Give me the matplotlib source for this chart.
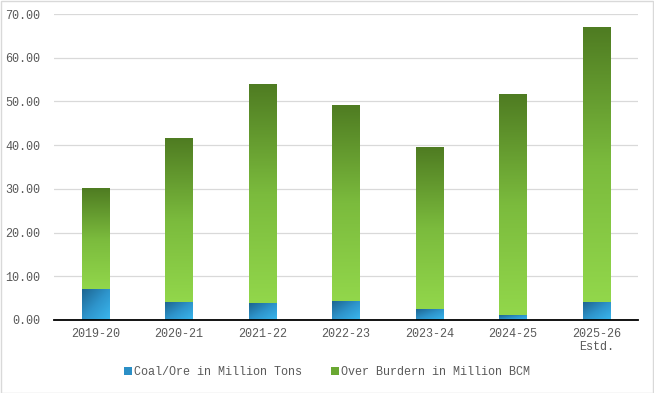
import numpy as np
import matplotlib
matplotlib.use("Agg")
import matplotlib.pyplot as plt
from matplotlib.colors import LinearSegmentedColormap
from matplotlib.patches import Rectangle

# ---- data ----
years = ["2019-20", "2020-21", "2021-22", "2022-23", "2023-24", "2024-25", "2025-26\nEstd."]
coal = [6.9, 3.9, 3.7, 4.3, 2.5, 1.1, 4.1]
overburden = [23.3, 37.7, 50.3, 44.7, 37.0, 50.5, 62.9]
yticks = [0, 10, 20, 30, 40, 50, 60, 70]
series_names = ["Coal/Ore in Million Tons", "Over Burdern in Million BCM"]

plt.rcParams["font.family"] = ["Liberation Mono", "DejaVu Sans Mono"]
TXT = "#595959"
FS = 8.5

fig = plt.figure(figsize=(6.54, 3.93), dpi=100)
ax = fig.add_axes([54 / 654, 73 / 393, 584 / 654, 306 / 393])

x = np.arange(len(years))
w = 0.33
b1 = ax.bar(x, coal, width=w, color="none", zorder=3)
b2 = ax.bar(x, overburden, width=w, bottom=coal, color="none", zorder=3)

green_cmap = LinearSegmentedColormap.from_list("g", ["#92d74b", "#7bbb3d", "#4f7c22"])
blue_cmap = LinearSegmentedColormap.from_list("b", ["#1d6591", "#2e94cb", "#3ab7ee"])

# vertical gradient (dark top)
gv = np.linspace(1, 0, 200).reshape(-1, 1)
# diagonal gradient (dark top-left)
n, m = 60, 60
rr, cc = np.mgrid[0:n, 0:m]
gd = (rr / (n - 1) + cc / (m - 1)) / 2.0

for p in b2:
    x0, y0 = p.get_x(), p.get_y()
    ax.imshow(gv, cmap=green_cmap, aspect="auto", interpolation="bilinear",
              extent=(x0, x0 + p.get_width(), y0, y0 + p.get_height()),
              origin="upper", zorder=3, vmin=0, vmax=1)
for p in b1:
    x0, y0 = p.get_x(), p.get_y()
    ax.imshow(gd, cmap=blue_cmap, aspect="auto", interpolation="bilinear",
              extent=(x0, x0 + p.get_width(), y0, y0 + p.get_height()),
              origin="upper", zorder=3, vmin=0, vmax=1)

ax.set_xlim(-0.5, len(years) - 0.5)
ax.set_ylim(0, 70)
ax.set_yticks(yticks)
ax.set_yticklabels([f"{v:.2f}" for v in yticks])
ax.set_xticks(x)
ax.set_xticklabels(years, linespacing=1.1)
ax.tick_params(axis="both", length=0, labelsize=FS, labelcolor=TXT)
ax.tick_params(axis="y", pad=10)
ax.tick_params(axis="x", pad=6)
ax.yaxis.grid(True, color="#d9d9d9", linewidth=0.9, zorder=0)
ax.set_axisbelow(True)
for s in ["top", "right", "left"]:
    ax.spines[s].set_visible(False)
ax.spines["bottom"].set_color("black")
ax.spines["bottom"].set_linewidth(1.3)
ax.spines["bottom"].set_zorder(5)

handles = [Rectangle((0, 0), 1, 1, facecolor="#2b8fc6"),
           Rectangle((0, 0), 1, 1, facecolor="#6aa832")]
fig.legend(handles, series_names, loc="center", bbox_to_anchor=(0.5, 21 / 393),
           ncol=2, frameon=False, fontsize=FS, labelcolor=TXT,
           handlelength=0.7, handleheight=0.7, handletextpad=0.2,
           columnspacing=2.4)

fig.patches.append(Rectangle((0.5 / 654, 0.5 / 393), 1 - 1.5 / 654, 1 - 1.5 / 393,
                             transform=fig.transFigure, fill=False,
                             edgecolor="#d9d9d9", linewidth=1.0))

fig.savefig("out.png", dpi=100)
